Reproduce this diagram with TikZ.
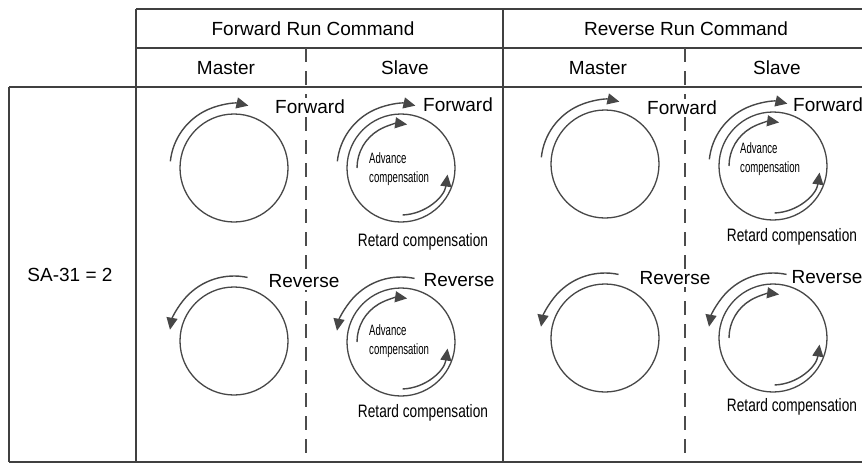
\documentclass[tikz,border=0pt]{standalone}
\usepackage{fontspec}
\setmainfont{Liberation Sans}
\newfontfamily\retfont[FakeStretch=0.76]{Liberation Sans}
\newfontfamily\advfont[FakeStretch=0.64]{Liberation Sans}
\usetikzlibrary{arrows.meta,calc}
\tikzset{
  tbl_line/.style={line width=1.4pt,draw=black!75},
  tbl_dash/.style={line width=1.8pt,draw=black!70,
    dash pattern=on 14pt off 9pt},
  rot_circ/.style={circle,draw=black!72,line width=1.3pt,
    minimum size=108pt,inner sep=0pt},
  rot_arr/.style={-{Triangle[length=12pt,width=11pt]},
    line width=1.4pt,draw=black!72},
  head_txt/.style={font=\fontsize{19}{22}\selectfont,inner sep=0pt},
  dir_txt/.style={font=\fontsize{19}{22}\selectfont,fill=white,
    inner sep=2pt},
  adv_txt/.style={font=\advfont\fontsize{15}{19}\selectfont,
    align=left,anchor=west,inner sep=0pt},
  ret_txt/.style={font=\retfont\fontsize{18}{20}\selectfont,inner sep=0pt},
}

\begin{document}
\begin{tikzpicture}[x=1pt,y=1pt]
  \useasboundingbox (0,0) rectangle (862,-464);
  % table frame
  \draw[tbl_line] (136,-9) -- (862,-9);
  \draw[tbl_line] (136,-48) -- (862,-48);
  \draw[tbl_line] (9,-87) -- (862,-87);
  \draw[tbl_line] (9,-462) -- (862,-462);
  \draw[tbl_line] (9,-87) -- (9,-462);
  \draw[tbl_line] (136,-9) -- (136,-462);
  \draw[tbl_line] (503,-9) -- (503,-462);
  \draw[tbl_dash] (306,-48) -- (306,-462);
  \draw[tbl_dash] (685,-48) -- (685,-462);

  % headers
  \node (hdr_fwd) [head_txt] at (313,-29) {Forward Run Command};
  \node (hdr_rev) [head_txt] at (686,-29) {Reverse Run Command};
  \node (hdr_fm) [head_txt] at (226,-68) {Master};
  \node (hdr_fs) [head_txt] at (405,-68) {Slave};
  \node (hdr_rm) [head_txt] at (598,-68) {Master};
  \node (hdr_rs) [head_txt] at (777,-68) {Slave};
  \node (lbl_sa) [head_txt] at (70,-275) {SA-31 = 2};

  % circles
  \node (fm1) [rot_circ] at (234,-168) {};
  \node (fs1) [rot_circ] at (401,-168) {};
  \node (rm1) [rot_circ] at (605,-164) {};
  \node (rs1) [rot_circ] at (773,-166) {};
  \node (fm2) [rot_circ] at (234,-341) {};
  \node (fs2) [rot_circ] at (401,-342) {};
  \node (rm2) [rot_circ] at (605,-338) {};
  \node (rs2) [rot_circ] at (773,-338) {};

  % forward rotation (outer arcs)
  \foreach \c in {fm1,fs1,rm1,rs1}
    \draw[rot_arr] ($(\c.center)+(174:64)$)
      arc[start angle=174,end angle=77,radius=64];
  % reverse rotation (outer arcs)
  \foreach \c in {fm2,fs2,rm2,rs2}
    \draw[rot_arr] ($(\c.center)+(78:65)$)
      arc[start angle=78,end angle=170,radius=65];
  % advance and retard compensation
  \foreach \c in {fs1,rs1,fs2,rs2} {
    \draw[rot_arr] ($(\c.center)+(180:44)$)
      arc[start angle=180,end angle=82,radius=44];
    \draw[rot_arr] ($(\c.center)+(-88:47)$)
      arc[start angle=-88,end angle=-8,radius=47];
  }

  % direction labels
  \node (fw_fm) [dir_txt] at (310,-107) {Forward};
  \node (fw_fs) [dir_txt] at (458,-105) {Forward};
  \node (fw_rm) [dir_txt] at (682,-108) {Forward};
  \node (fw_rs) [dir_txt] at (828,-105) {Forward};
  \node (rv_fm) [dir_txt] at (304,-281) {Reverse};
  \node (rv_fs) [dir_txt] at (459,-280) {Reverse};
  \node (rv_rm) [dir_txt] at (675,-278) {Reverse};
  \node (rv_rs) [dir_txt] at (827,-277) {Reverse};

  % compensation labels
  \node (adv_fs1) [adv_txt] at (369,-169) {Advance\\compensation};
  \node (adv_rs1) [adv_txt] at (740,-159) {Advance\\compensation};
  \node (adv_fs2) [adv_txt] at (369,-341) {Advance\\compensation};
  \node (ret_fs1) [ret_txt] at (423,-242) {Retard compensation};
  \node (ret_rs1) [ret_txt] at (792,-237) {Retard compensation};
  \node (ret_fs2) [ret_txt] at (423,-413) {Retard compensation};
  \node (ret_rs2) [ret_txt] at (792,-407) {Retard compensation};
\end{tikzpicture}
\end{document}
